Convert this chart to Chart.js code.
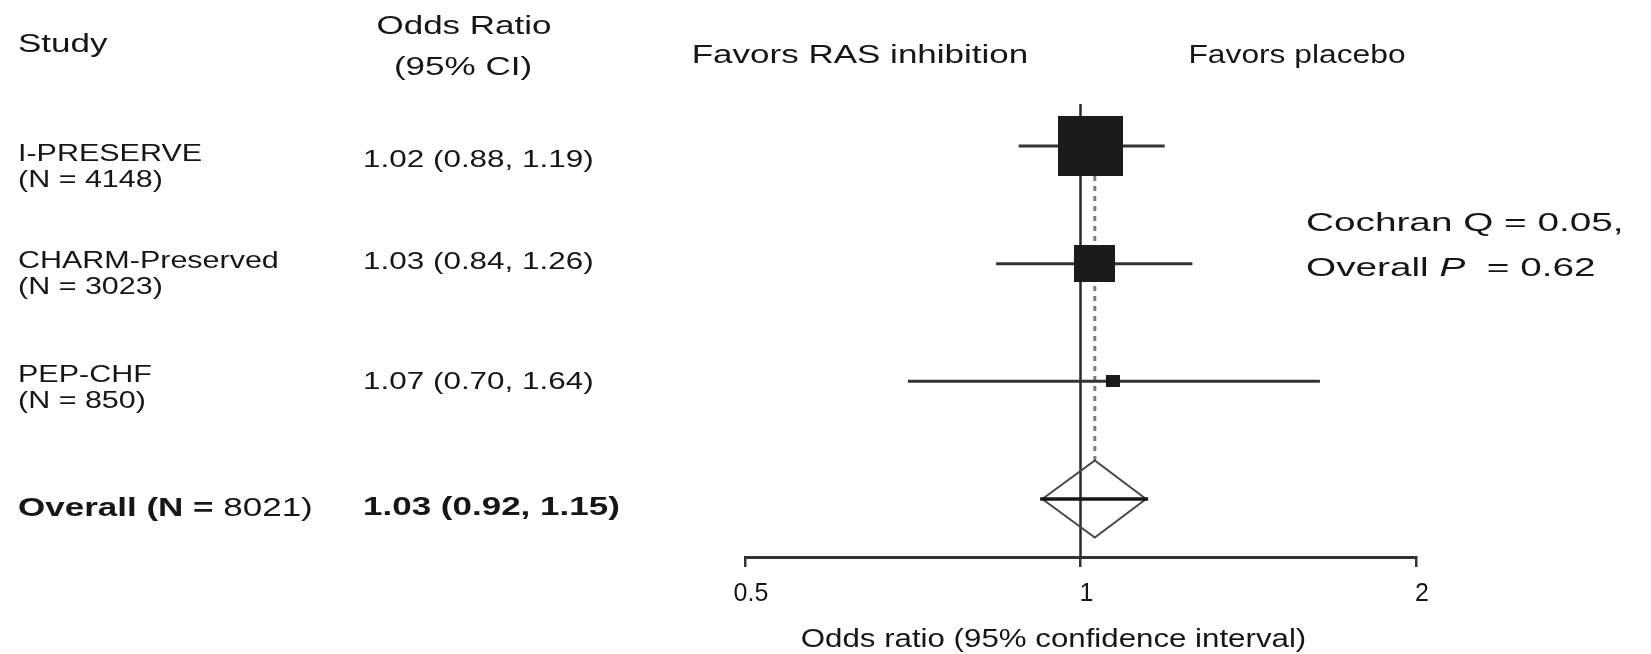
<!DOCTYPE html>
<html>
<head>
<meta charset="utf-8">
<script src="https://cdn.jsdelivr.net/npm/chart.js@4.4.0/dist/chart.umd.min.js"></script>
<style>
  html, body { margin: 0; padding: 0; background: #ffffff; }
  #wrap { position: relative; width: 1651px; height: 654px; }
</style>
</head>
<body>
<div id="wrap"><canvas id="c"></canvas></div>
<script>
// ---------------- data ----------------
const studies      = ['I-PRESERVE', 'CHARM-Preserved', 'PEP-CHF'];
const sampleSizes  = [4148, 3023, 850];
const oddsRatios   = [1.02, 1.03, 1.07];
const ciLower      = [0.88, 0.84, 0.70];
const ciUpper      = [1.19, 1.26, 1.64];
const overallLabel = 'Overall';
const overallN     = 8021;
const overallOR    = 1.03;
const overallLower = 0.92;
const overallUpper = 1.15;
const xTicks       = [0.5, 1, 2];
const tickLabels   = ['0.5', '1', '2'];
const cochranQ     = 0.05;
const overallP     = 0.62;
const headerStudy  = 'Study';
const headerOR     = ['Odds Ratio', '(95% CI)'];
const favorsLeft   = 'Favors RAS inhibition';
const favorsRight  = 'Favors placebo';
const axisTitle    = 'Odds ratio (95% confidence interval)';

// ---------------- style ----------------
const FONT = '"Liberation Sans", Arial, Helvetica, sans-serif';
const TEXT_COLOR = '#161616';
const Y_MIN = -0.357, Y_MAX = 3.493;           // row axis range (rows 0..3)
const BOX_SIZES = [[65, 60], [41, 37], [14, 12]];
const DIAMOND_H = 0.327;                        // half height in row units
const DIAMOND_SPAN = 0.96;                      // diamond width relative to CI (log space)
const NAME_DY = [8, -2, -6, 10];
const N_DY = 26;
const CI_DY = [14, -1, 1, 9];

function boxImage(w, h) {
  const c = document.createElement('canvas');
  c.width = w; c.height = h;
  const g = c.getContext('2d');
  g.fillStyle = '#1b1b1b';
  g.fillRect(0, 0, w, h);
  return c;
}
const boxImages = BOX_SIZES.map(s => boxImage(s[0], s[1]));

const overallRow = studies.length;
const datasets = [];
// vertical reference line at OR = 1
datasets.push({
  data: [{ x: 1, y: Y_MIN }, { x: 1, y: Y_MAX }],
  showLine: true, borderColor: '#2a2a2a', borderWidth: 2.5, pointRadius: 0, order: 5
});
// dotted line at pooled OR
datasets.push({
  data: [{ x: overallOR, y: 0 }, { x: overallOR, y: overallRow - DIAMOND_H }],
  showLine: true, borderColor: '#7c7c7c', borderWidth: 3, borderDash: [5, 5], pointRadius: 0, order: 6
});
// study CI lines
studies.forEach((s, i) => {
  datasets.push({
    data: [{ x: ciLower[i], y: i }, { x: ciUpper[i], y: i }],
    showLine: true, borderColor: '#333333', borderWidth: 3, pointRadius: 0, order: 3
  });
});
// study squares
datasets.push({
  data: oddsRatios.map((v, i) => ({ x: v, y: i })),
  showLine: false, pointStyle: boxImages, pointRadius: 5, order: 1
});
// pooled CI bar
datasets.push({
  data: [{ x: overallLower, y: overallRow }, { x: overallUpper, y: overallRow }],
  showLine: true, borderColor: '#151515', borderWidth: 3.5, pointRadius: 0, order: 2
});
// pooled diamond
const dLo = overallOR * Math.pow(overallLower / overallOR, DIAMOND_SPAN);
const dHi = overallOR * Math.pow(overallUpper / overallOR, DIAMOND_SPAN);
datasets.push({
  data: [
    { x: dLo, y: overallRow }, { x: overallOR, y: overallRow - DIAMOND_H },
    { x: dHi, y: overallRow }, { x: overallOR, y: overallRow + DIAMOND_H },
    { x: dLo, y: overallRow }
  ],
  showLine: true, borderColor: '#474747', borderWidth: 2, pointRadius: 0, fill: false, order: 4
});

function fmt(v) { return v.toFixed(2); }

function drawText(ctx, text, x, y, opt) {
  const size = opt.size || 24, weight = opt.weight || 'normal', style = opt.style || 'normal';
  const kx = opt.kx || 1, align = opt.align || 'left';
  ctx.save();
  ctx.font = style + ' ' + weight + ' ' + size + 'px ' + FONT;
  ctx.fillStyle = TEXT_COLOR;
  ctx.textBaseline = 'middle';
  ctx.textAlign = 'left';
  const w = ctx.measureText(text).width * kx;
  let left = x;
  if (align === 'center') left = x - w / 2;
  else if (align === 'right') left = x - w;
  ctx.translate(left, y);
  ctx.scale(kx, 1);
  ctx.fillText(text, 0, 0);
  ctx.restore();
  return w;
}

const textPlugin = {
  id: 'forestText',
  afterDraw(chart) {
    const ctx = chart.ctx;
    const ys = chart.scales.y, xs = chart.scales.x;
    const H = { size: 25, kx: 1.40 };
    const B = { size: 24, kx: 1.27 };
    const C = { size: 26, kx: 1.49 };
    // headers
    drawText(ctx, headerStudy, 18, 45, H);
    drawText(ctx, headerOR[0], 464, 27, Object.assign({ align: 'center' }, H));
    drawText(ctx, headerOR[1], 463, 68, Object.assign({ align: 'center' }, H));
    drawText(ctx, favorsLeft, 860, 56, Object.assign({ align: 'center' }, H));
    drawText(ctx, favorsRight, 1297, 56, { size: 25, kx: 1.27, align: 'center' });
    // study rows
    studies.forEach((s, i) => {
      const py = ys.getPixelForValue(i);
      drawText(ctx, s, 18, py + NAME_DY[i], B);
      drawText(ctx, '(N = ' + sampleSizes[i] + ')', 18, py + NAME_DY[i] + N_DY, B);
      drawText(ctx, fmt(oddsRatios[i]) + ' (' + fmt(ciLower[i]) + ', ' + fmt(ciUpper[i]) + ')', 363, py + CI_DY[i], { size: 24, kx: 1.31 });
    });
    // overall row
    const po = ys.getPixelForValue(overallRow);
    const w1 = drawText(ctx, overallLabel + ' (N = ', 18, po + NAME_DY[overallRow], { size: 25, kx: 1.40, weight: 'bold' });
    drawText(ctx, overallN + ')', 18 + w1, po + NAME_DY[overallRow], { size: 25, kx: 1.40 });
    drawText(ctx, fmt(overallOR) + ' (' + fmt(overallLower) + ', ' + fmt(overallUpper) + ')', 363, po + CI_DY[overallRow], { size: 25, kx: 1.40, weight: 'bold' });
    // heterogeneity
    drawText(ctx, 'Cochran Q = ' + fmt(cochranQ) + ',', 1306, 224, C);
    let cx = 1306;
    cx += drawText(ctx, 'Overall ', cx, 269, C);
    cx += drawText(ctx, 'P', cx, 269, Object.assign({ style: 'italic' }, C));
    drawText(ctx, '  = ' + fmt(overallP), cx, 269, C);
    // axis title
    drawText(ctx, axisTitle, (xs.left + xs.right) / 2 - 27, 640, { size: 25, kx: 1.25, align: 'center' });
  }
};

new Chart(document.getElementById('c'), {
  type: 'scatter',
  data: { datasets },
  options: {
    responsive: true,
    maintainAspectRatio: false,
    animation: false,
    events: [],
    layout: { padding: { left: 745, right: 235, top: 104, bottom: 0 } },
    plugins: { legend: { display: false }, tooltip: { enabled: false }, title: { display: false } },
    scales: {
      x: {
        type: 'logarithmic',
        position: 'bottom',
        min: 0.5, max: 2,
        afterBuildTicks: (s) => { s.ticks = xTicks.map(v => ({ value: v })); },
        afterFit: (s) => { s.height = 97; },
        ticks: {
          callback: (v) => { const k = xTicks.indexOf(v); return k >= 0 ? tickLabels[k] : ''; },
          font: { family: FONT, size: 25 },
          color: TEXT_COLOR,
          padding: 12,
          labelOffset: 6,
          maxRotation: 0,
          autoSkip: false
        },
        grid: { drawOnChartArea: false, drawTicks: true, tickLength: 10, color: '#333333', lineWidth: 2.5 },
        border: { display: true, color: '#333333', width: 3 },
        title: { display: false }
      },
      y: {
        type: 'linear',
        reverse: true,
        min: Y_MIN, max: Y_MAX,
        display: false
      }
    }
  },
  plugins: [textPlugin]
});
</script>
</body>
</html>
